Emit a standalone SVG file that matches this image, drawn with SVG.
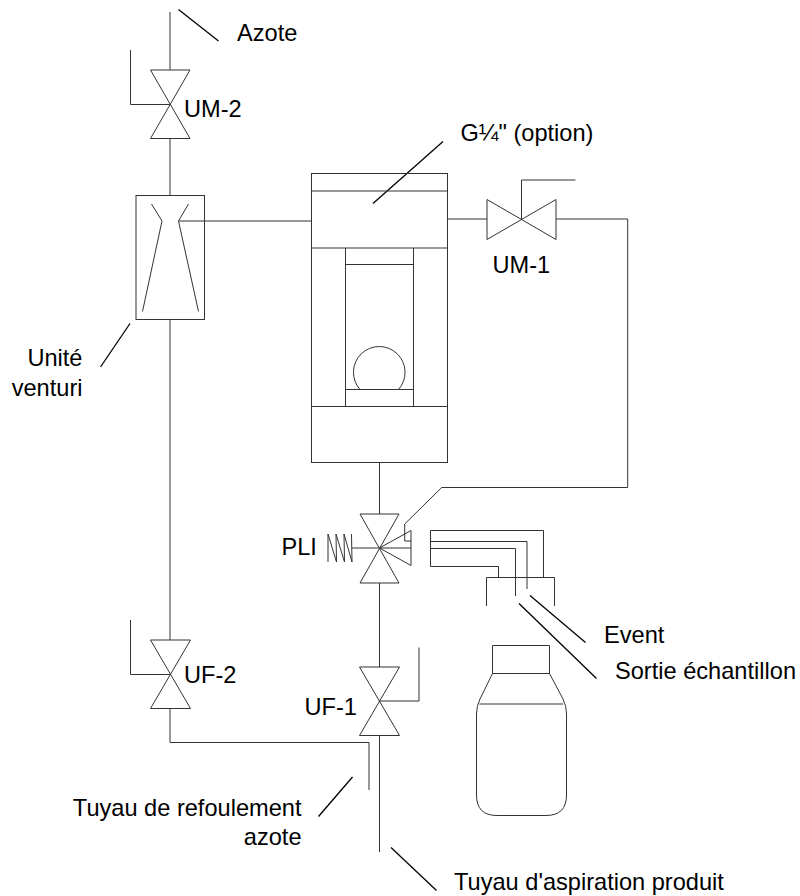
<svg xmlns="http://www.w3.org/2000/svg" width="800" height="896" viewBox="0 0 800 896">
<style>
.l{fill:none;stroke:#333;stroke-width:1}
.d{fill:none;stroke:#000;stroke-width:1.3}
text{font-family:"Liberation Sans",Arial,sans-serif;font-size:23.6px;fill:#000}
</style>
<rect width="800" height="896" fill="#fff"/>
<g id="connectors">
<path class="l" d="M170 12V70M170 138V195M170 319V640M170 708V742.5H369V790"/>
<path class="l" d="M179 221H311.5"/>
<path class="l" d="M447 219H487M556 219H627.7V487.5H441.7L404.7 524"/>
<path class="l" d="M379.5 463V514M379.5 583V667M379.5 736V852"/>
<path class="l" d="M430.5 530.5H543.5V577.5M430.5 541.5H527V589M430.5 548.5H515.5V596M430.5 530.5V566.5H498.5V577.5"/>
</g>
<g id="leaders">
<path class="d" d="M178.5 9.5L218.5 41"/>
<path class="d" d="M373 203.5L443 141.5"/>
<path class="d" d="M130 323.5L100.5 367"/>
<path class="d" d="M530 595.5L585.5 642.5"/>
<path class="d" d="M519 603.5L596.5 678.5"/>
<path class="d" d="M352.5 777L318.5 816.5"/>
<path class="d" d="M391 847.5L436.5 890.5"/>
</g>
<g id="um-2"><path class="l" d="M150.5 70H190L150.5 138.5H190ZM170 104.5H130.5V50"/><text x="184" y="117">UM-2</text></g>
<g id="venturi"><rect class="l" x="136" y="195.5" width="68.5" height="124"/><path class="l" d="M151.5 204L162 221L142.5 311.5M188.5 204L178.5 221L198.5 311.5"/></g>
<g id="unite-label"><text x="82.5" y="366" text-anchor="end">Unité</text><text x="82.5" y="395.5" text-anchor="end">venturi</text></g>
<g id="azote-label"><text x="237" y="41">Azote</text></g>
<g id="chamber"><rect class="l" x="311.5" y="173.5" width="136" height="289"/><path class="l" d="M311.5 191H447.5M311.5 248H447.5M311.5 406.5H447.5M345.5 248V406.5M413.5 248V406.5M345.5 264.5H413.5M345.5 389.5H413.5M360 389.5A25.8 25.8 0 1 1 398.5 389.5"/></g>
<g id="g14-label"><text x="460.5" y="141">G¼" (option)</text></g>
<g id="um-1"><path class="l" d="M487 199.5V239.5L556 199.5V239.5ZM521.5 219V180H575.5"/><text x="492.5" y="272.5">UM-1</text></g>
<g id="pli"><path class="l" d="M360 514H399L360 583H399ZM351.5 548H411M379.5 548L411 530.5V565.5L379.5 548M404.7 524V541H411M351.5 534L352 562L344 534L344.5 562L336 534L336.5 562L328 534V562"/><text x="281.5" y="554.5">PLI</text></g>
<g id="sample-head"><path class="l" d="M486.5 606V577.5H554.5V606"/></g>
<g id="event-label"><text x="604" y="642.5">Event</text></g>
<g id="sortie-label"><text x="615" y="679">Sortie échantillon</text></g>
<g id="bottle"><path class="l" d="M492.5 645.5H549.5V673.5H492.5ZM492.5 673.5L480 699Q476.5 706 476.5 714V795Q476.5 815.5 497 815.5H546Q566.5 815.5 566.5 795V714Q566.5 706 563 699L549.5 673.5M479.5 704H563"/></g>
<g id="uf-2"><path class="l" d="M150.5 640H190.5L150.5 708.5H190.5ZM170 674.5H130.5V620"/><text x="184" y="683">UF-2</text></g>
<g id="uf-1"><path class="l" d="M359.5 667H399.5L359.5 735.5H399.5ZM379.5 701H419V647.5"/><text x="304.5" y="715">UF-1</text></g>
<g id="tuyau-refoulement-label"><text x="301.5" y="815.5" text-anchor="end">Tuyau de refoulement</text><text x="301.5" y="844.5" text-anchor="end">azote</text></g>
<g id="tuyau-aspiration-label"><text x="454" y="890">Tuyau d'aspiration produit</text></g>
</svg>
